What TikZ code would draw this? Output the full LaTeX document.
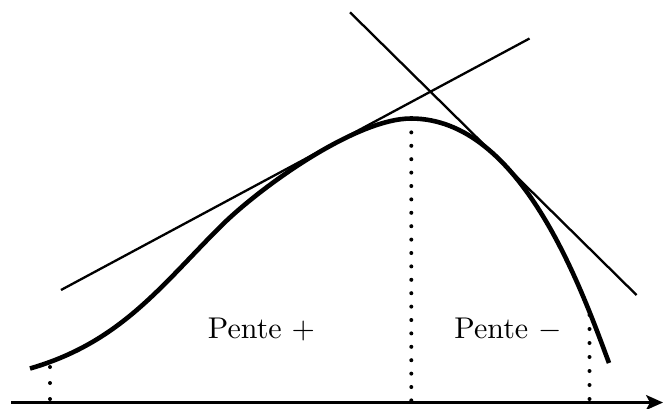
\documentclass[tikz,border=0pt]{standalone}
\usepackage{graphicx}
\usetikzlibrary{arrows.meta}
\begin{document}
\begin{tikzpicture}[x=1pt,y=-1pt,
  curvestyle/.style={line width=4.6pt},
  tangentstyle/.style={line width=2.3pt},
  axisstyle/.style={line width=2.4pt,-{Stealth[length=17pt,width=15pt,inset=4pt]}},
  dotstyle/.style={line width=4pt,line cap=round,dash pattern=on 0pt off #1},
  dotstyle/.default=14pt,
  labelstyle/.style={anchor=base,inner sep=0pt}]
\useasboundingbox (0,0) rectangle (666,408);
% axis
\coordinate (ax0) at (11,402.5);
\coordinate (ax1) at (663,402.5);
\draw[axisstyle] (ax0) -- (ax1);
% tangents
\coordinate (t1a) at (61,290);
\coordinate (t1b) at (529.5,38.5);
\coordinate (t2a) at (350,12.3);
\coordinate (t2b) at (636.5,295);
\draw[tangentstyle] (t1a) -- (t1b);
\draw[tangentstyle] (t2a) -- (t2b);
% dotted verticals
\coordinate (dl) at (50,367);
\coordinate (dlb) at (50,402);
\coordinate (dc) at (411.3,119);
\coordinate (dcb) at (411.3,402);
\coordinate (dr) at (589.5,315);
\coordinate (drb) at (589.5,402);
\draw[dotstyle=16pt] (dl) -- (dlb);
\draw[dotstyle=13.4pt] (dc) -- (dcb);
\draw[dotstyle=14pt] (dr) -- (drb);
% curve
\coordinate (c0) at (30,368.5);
\coordinate (c1) at (220,227);
\coordinate (c2) at (411,118.5);
\coordinate (c3) at (609,363);
\draw[curvestyle] (c0) .. controls (120,342.4) and (160,287) .. (c1)
  .. controls (260,187) and (356,118.5) .. (c2)
  .. controls (521,118.5) and (581.1,288.1) .. (c3);
% labels
\node[labelstyle] (lp) at (261.5,338.5) {\scalebox{3}{Pente $+$}};
\node[labelstyle] (lm) at (508,338.5) {\scalebox{3}{Pente $-$}};
\end{tikzpicture}
\end{document}
